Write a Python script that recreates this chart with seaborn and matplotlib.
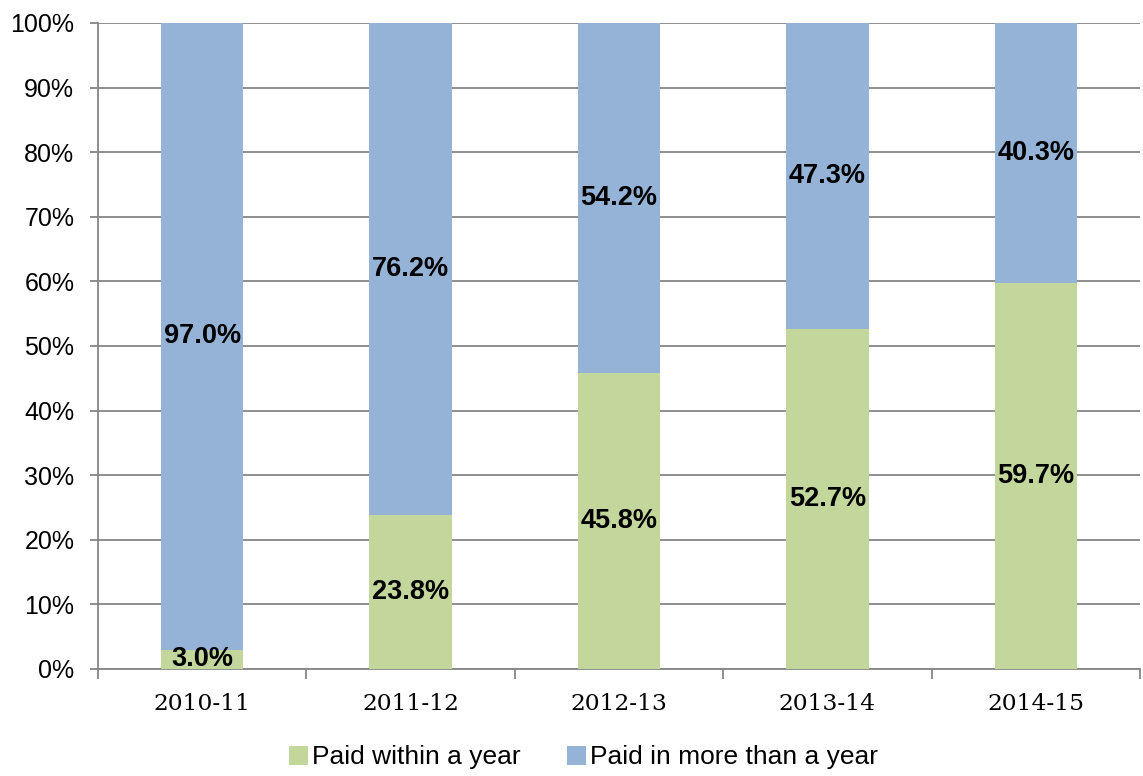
import pandas as pd
import matplotlib.pyplot as plt
import seaborn as sns

# Data
years = ['2010-11', '2011-12', '2012-13', '2013-14', '2014-15']
within_year = [3.0, 23.8, 45.8, 52.7, 59.7]
more_than_year = [97.0, 76.2, 54.2, 47.3, 40.3]
y_ticks = [0, 10, 20, 30, 40, 50, 60, 70, 80, 90, 100]

green = '#C3D69B'
blue = '#95B3D7'
grid_col = '#868686'

sns.set_style("white")
plt.rcParams['font.family'] = ['Liberation Sans', 'DejaVu Sans']
plt.rcParams['text.color'] = 'black'
plt.rcParams['xtick.labelcolor'] = 'black'
plt.rcParams['ytick.labelcolor'] = 'black'

df = pd.DataFrame({'Year': years, 'Within': within_year, 'More': more_than_year})
df['Total'] = df['Within'] + df['More']

fig = plt.figure(figsize=(11.43, 7.76), dpi=100)
ax = fig.add_axes([0.0857, 0.1379, 0.9117, 0.8325])

# stacked: draw the total in blue, then the bottom part in green
sns.barplot(data=df, x='Year', y='Total', color=blue, width=0.395,
            saturation=1, ax=ax, zorder=3, linewidth=0,
            label='Paid in more than a year')
sns.barplot(data=df, x='Year', y='Within', color=green, width=0.395,
            saturation=1, ax=ax, zorder=3, linewidth=0,
            label='Paid within a year')

# labels in the middle of each segment
for i, row in df.iterrows():
    ax.text(i, row['Within'] / 2, f"{row['Within']:.1f}%", ha='center', va='center',
            fontsize=19.5, fontweight='bold', color='black', zorder=5)
    ax.text(i, row['Within'] + row['More'] / 2, f"{row['More']:.1f}%", ha='center',
            va='center', fontsize=19.5, fontweight='bold', color='black', zorder=5)

ax.set_xlim(-0.5, len(years) - 0.5)
ax.set_ylim(0, 100)
ax.set_yticks(y_ticks)
ax.set_yticklabels([f'{t}%' for t in y_ticks], fontsize=18)
ax.yaxis.grid(True, color=grid_col, linewidth=1.3, zorder=0)
ax.tick_params(axis='y', length=6, width=1.3, color=grid_col, pad=11,
               direction='out', left=True)

# category labels centred, tick marks between categories
ax.set_xticks(range(len(years)))
ax.set_xticklabels(years, fontsize=16.8, family='DejaVu Serif')
ax.set_xticks([i - 0.5 for i in range(len(years) + 1)], minor=True)
ax.tick_params(axis='x', which='major', length=0, pad=17)
ax.tick_params(axis='x', which='minor', length=7, width=1.3, color=grid_col,
               direction='out', bottom=True)
ax.set_xlabel('')
ax.set_ylabel('')

for side in ['top', 'right']:
    ax.spines[side].set_visible(False)
for side in ['left', 'bottom']:
    ax.spines[side].set_color(grid_col)
    ax.spines[side].set_linewidth(1.3)

handles, labels = ax.get_legend_handles_labels()
order = [labels.index('Paid within a year'), labels.index('Paid in more than a year')]
ax.legend([handles[k] for k in order], [labels[k] for k in order],
          loc='center', bbox_to_anchor=(0.466, -0.137), ncol=2, frameon=False,
          fontsize=19, handlelength=0.72, handleheight=0.72, handletextpad=0.15,
          columnspacing=1.75)

plt.savefig('out.png', dpi=100)
plt.close()
